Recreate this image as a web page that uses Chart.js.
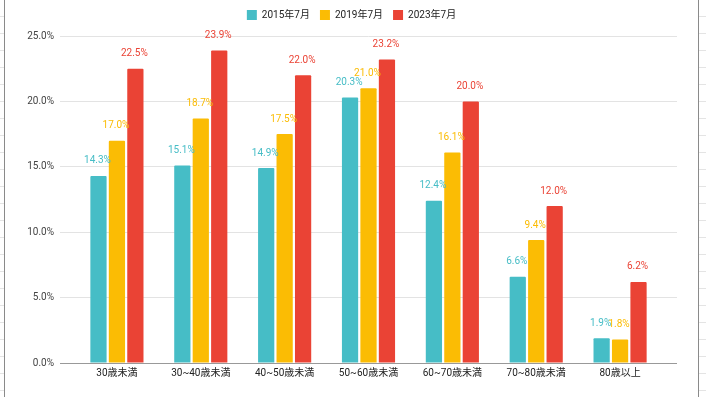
<!DOCTYPE html>
<html>
<head>
<meta charset="utf-8">
<script src="https://cdn.jsdelivr.net/npm/chart.js@4/dist/chart.umd.min.js"></script>
<style>
  html, body { margin: 0; padding: 0; background: #fff; }
  #wrap { position: relative; width: 706px; height: 397px; overflow: hidden; }
  .edge { position: absolute; top: 0; height: 397px;
    background: repeating-linear-gradient(to bottom, #fff 0px, #fff 16px, #e4e4e4 16px, #e4e4e4 17px); }
  .vline { position: absolute; top: 0; width: 1px; height: 397px; background: #8a8a8a; }
  #box { position: absolute; left: 5px; top: 0; width: 693px; height: 397px; }
</style>
</head>
<body>
<div id="wrap">
  <div class="edge" style="left:0;width:4px"></div>
  <div class="vline" style="left:4px"></div>
  <div class="edge" style="left:699px;width:7px"></div>
  <div class="vline" style="left:698px"></div>
  <div id="box"><canvas id="myChart" width="693" height="397"></canvas></div>
</div>
<script>
// age groups
const categories = ['30歳未満', '30~40歳未満', '40~50歳未満', '50~60歳未満', '60~70歳未満', '70~80歳未満', '80歳以上'];
const seriesNames = ['2015年7月', '2019年7月', '2023年7月'];
const jul2015 = [14.3, 15.1, 14.9, 20.3, 12.4, 6.6, 1.9];
const jul2019 = [17.0, 18.7, 17.5, 21.0, 16.1, 9.4, 1.8];
const jul2023 = [22.5, 23.9, 22.0, 23.2, 20.0, 12.0, 6.2];
const yTicks = [0, 5, 10, 15, 20, 25];

const colors = ['#46BDC6', '#FBBC04', '#EA4335'];
const FONT = 'Roboto, "Noto Sans CJK JP", sans-serif';

// draws the value above each bar
const valueLabels = {
  id: 'valueLabels',
  afterDatasetsDraw(chart) {
    const ctx = chart.ctx;
    ctx.save();
    ctx.font = '10px ' + FONT;
    ctx.textAlign = 'center';
    ctx.textBaseline = 'middle';
    chart.data.datasets.forEach((ds, i) => {
      const meta = chart.getDatasetMeta(i);
      ctx.fillStyle = ds.backgroundColor;
      meta.data.forEach((bar, j) => {
        ctx.fillText(ds.data[j].toFixed(1) + '%', bar.x - 1, bar.y - 15);
      });
    });
    ctx.restore();
  }
};

// gridline colour, the zero line is darker
const gridColor = c => (c.tick && c.tick.value === 0) ? '#999' : '#e3e3e3';

const ctx = document.getElementById('myChart').getContext('2d');
new Chart(ctx, {
  type: 'bar',
  data: {
    labels: categories,
    datasets: [jul2015, jul2019, jul2023].map((d, i) => ({
      label: seriesNames[i],
      data: d,
      backgroundColor: colors[i],
      borderWidth: 0,
      borderRadius: 1,
      barPercentage: 0.88,
      categoryPercentage: 0.66
    }))
  },
  options: {
    responsive: false,
    animation: false,
    layout: { padding: { top: 0, right: 0, bottom: 0, left: 0 } },
    plugins: {
      legend: {
        position: 'top',
        labels: {
          boxWidth: 10, boxHeight: 10, padding: 10,
          color: '#222',
          font: { size: 10, family: FONT }
        }
      },
      // empty spacer between legend and plot
      subtitle: {
        display: true, text: '', weight: 500,
        font: { size: 1, lineHeight: 1 },
        padding: { top: 0, bottom: 5 }
      },
      tooltip: { enabled: false }
    },
    scales: {
      x: {
        grid: { display: false, drawTicks: false },
        border: { color: '#999', width: 1 },
        ticks: { color: '#222', font: { size: 10, family: FONT }, padding: 4 },
        afterFit(scale) { scale.height = 34; }
      },
      y: {
        min: 0, max: 25,
        afterBuildTicks(scale) { scale.ticks = yTicks.map(v => ({ value: v })); },
        grid: { color: gridColor, tickColor: gridColor, tickLength: 15 },
        border: { display: false },
        ticks: {
          color: '#444', padding: 6,
          font: { size: 10, family: FONT },
          callback: v => v.toFixed(1) + '%'
        },
        afterFit(scale) { scale.width = 70; scale.paddingTop = 36; }
      },
      y2: {
        position: 'right',
        min: 0, max: 25,
        afterBuildTicks(scale) { scale.ticks = yTicks.map(v => ({ value: v })); },
        grid: { drawOnChartArea: false, tickColor: gridColor, tickLength: 15 },
        border: { display: false },
        ticks: { color: 'rgba(0,0,0,0)', padding: 0, font: { size: 1 } },
        afterFit(scale) { scale.width = 36; }
      }
    }
  },
  plugins: [valueLabels]
});
</script>
</body>
</html>
